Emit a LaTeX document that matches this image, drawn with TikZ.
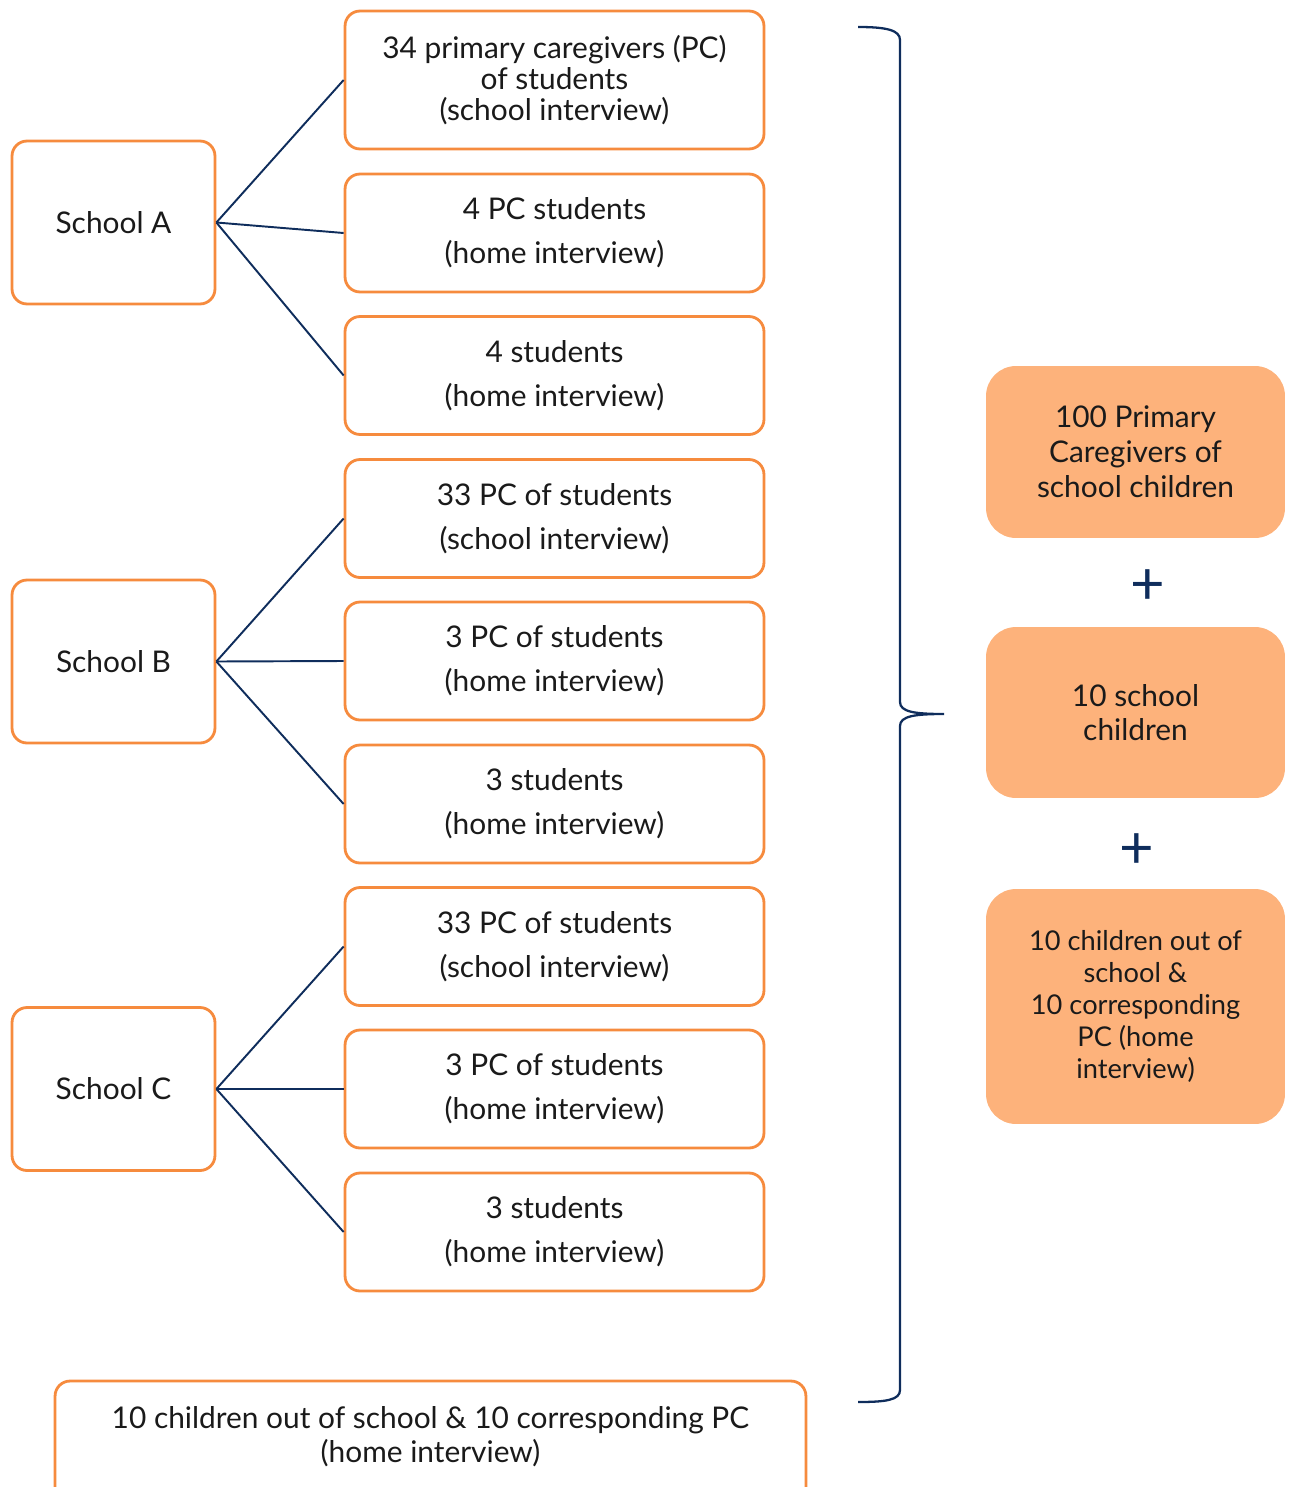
\documentclass[tikz,border=0pt]{standalone}
\usepackage{fontspec}
\setmainfont{Lato}
\definecolor{edgeorange}{HTML}{F68B3E}
\definecolor{peach}{HTML}{FDB27B}
\definecolor{navy}{HTML}{0F2D5C}
\definecolor{ink}{HTML}{1A1A1A}
\tikzset{
  box/.style={draw=edgeorange, line width=1.6pt, rounded corners=0.3cm, fill=white,
    text=ink, align=center, inner sep=0pt},
  schoolbox/.style={box, minimum width=4.06cm, minimum height=3.26cm,
    font=\fontsize{17}{20}\selectfont},
  groupbox/.style={box, minimum width=8.38cm, minimum height=2.36cm,
    font=\fontsize{17}{25}\selectfont},
  totalbox/.style={fill=peach, rounded corners=0.6cm, minimum width=5.98cm,
    text=ink, align=center, inner sep=0pt, font=\fontsize{17}{19.8}\selectfont},
  link/.style={draw=navy, line width=1.1pt},
  plussign/.style={text=navy, font=\fontsize{34}{34}\selectfont, inner sep=0pt},
}
\begin{document}
\begin{tikzpicture}[x=0.02cm, y=-0.02cm]
\useasboundingbox (0,0) rectangle (1294,1487);

% schools
\node[schoolbox] (sa) at (113.5,222.5) {School A};
\node[schoolbox] (sb) at (113.5,661.5) {School B};
\node[schoolbox] (sc) at (113.5,1089) {School C};

% interview groups per school
\node[groupbox, minimum height=2.76cm, font=\fontsize{17}{17.6}\selectfont] (a1) at (554.5,80)
  {34 primary caregivers (PC)\\of students\\(school interview)};
\node[groupbox] (a2) at (554.5,233) {4 PC students\\(home interview)};
\node[groupbox] (a3) at (554.5,375.5) {4 students\\(home interview)};
\node[groupbox] (b1) at (554.5,518.5) {33 PC of students\\(school interview)};
\node[groupbox] (b2) at (554.5,661) {3 PC of students\\(home interview)};
\node[groupbox] (b3) at (554.5,804) {3 students\\(home interview)};
\node[groupbox] (c1) at (554.5,946.5) {33 PC of students\\(school interview)};
\node[groupbox] (c2) at (554.5,1089) {3 PC of students\\(home interview)};
\node[groupbox] (c3) at (554.5,1232) {3 students\\(home interview)};

% out-of-school group (runs past the lower edge)
\node[box, minimum width=15.02cm, minimum height=3.2cm] (out) at (430.5,1461) {};
\node[text=ink, align=center, font=\fontsize{17}{19.3}\selectfont, inner sep=0pt]
  (outtext) at (430.5,1437) {10 children out of school \& 10 corresponding PC\\(home interview)};

% connectors
\foreach \s/\g in {sa/a1, sa/a2, sa/a3, sb/b1, sb/b2, sb/b3, sc/c1, sc/c2, sc/c3}
  \draw[link] (\s.east) -- (\g.west);

% brace
\draw[navy, line width=1.3pt]
  (858,27) .. controls (886,27) and (900,30) .. (900,40) -- (900,702)
  .. controls (900,712) and (915,714) .. (944,714)
  .. controls (915,714) and (900,716) .. (900,726) -- (900,1390)
  .. controls (900,1400) and (886,1402) .. (858,1402);

% totals
\node[totalbox, minimum height=3.44cm] (t1) at (1135.5,452)
  {100 Primary\\Caregivers of\\school children};
\node[plussign] (p1) at (1148,587) {+};
\node[totalbox, minimum height=3.42cm] (t2) at (1135.5,712.5) {10 school\\children};
\node[plussign] (p2) at (1137,851) {+};
\node[totalbox, minimum height=4.7cm, font=\fontsize{15.5}{18.2}\selectfont] (t3) at (1135.5,1006.5)
  {10 children out of\\school \&\\10 corresponding\\PC (home\\interview)};
\end{tikzpicture}
\end{document}
